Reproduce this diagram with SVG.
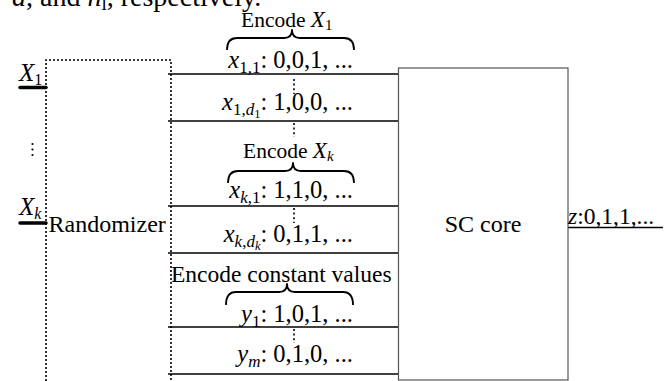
<svg xmlns="http://www.w3.org/2000/svg" width="671" height="381" viewBox="0 0 671 381">
  <style>
    text { font-family: "Liberation Serif", "Times New Roman", serif; fill: #000; }
    .it { font-style: italic; }
    .lbl { font-size: 24.5px; }
    .sub { font-size: 17px; }
    .sub2 { font-size: 12.5px; }
    .big { font-size: 24px; }
    .dot { fill: none; stroke: #000; stroke-width: 1.6; stroke-dasharray: 2 2; }
    .ell { fill: none; stroke: #000; stroke-width: 1.6; stroke-dasharray: 2 2.6; }
    .wire { stroke: #000; stroke-width: 1.6; }
    .brace { fill: none; stroke: #000; stroke-width: 1.8; stroke-linejoin: round; }
    .inp { stroke: #000; stroke-width: 3.5; stroke-linecap: round; }
  </style>

  <rect width="671" height="381" fill="#fff"/>

  <!-- running text of the page, cut at the top edge -->
  <text x="12" y="6" style="font-size:28px"><tspan class="it">a</tspan>, and <tspan class="it">n</tspan><tspan style="font-size:19px" dy="4">l</tspan><tspan dy="-4">, respectively.</tspan></text>

  <!-- inputs -->
  <g id="input-x1">
    <text x="19" y="81" style="font-size:25px"><tspan class="it">X</tspan><tspan style="font-size:16px" dy="4">1</tspan></text>
    <line class="inp" x1="20" y1="87.5" x2="46" y2="87.5"/>
  </g>
  <g id="input-dots">
    <circle cx="32.5" cy="144" r="1.1"/>
    <circle cx="32.5" cy="149.5" r="1.1"/>
    <circle cx="32.5" cy="155" r="1.1"/>
  </g>
  <g id="input-xk">
    <text x="19" y="215" style="font-size:25px"><tspan class="it">X</tspan><tspan class="it" style="font-size:16px" dy="4">k</tspan></text>
    <line class="inp" x1="20" y1="223" x2="46" y2="223"/>
  </g>

  <!-- randomizer block -->
  <g id="randomizer">
    <path class="dot" d="M46 381 V60 H171 V381"/>
    <text x="48.5" y="232" class="big">Randomizer</text>
  </g>

  <!-- stochastic bitstreams into the core -->
  <g id="connectors">
    <line class="wire" x1="168" y1="74" x2="398" y2="74"/>
    <line class="wire" x1="168" y1="121" x2="398" y2="121"/>
    <line class="wire" x1="168" y1="206" x2="398" y2="206"/>
    <line class="wire" x1="168" y1="253" x2="398" y2="253"/>
    <line class="wire" x1="168" y1="327" x2="398" y2="327"/>
    <line class="wire" x1="168" y1="374" x2="398" y2="374"/>
    <line class="wire" x1="568" y1="227.5" x2="663" y2="227.5"/>
    <!-- vertical ellipses between streams -->
    <line class="ell" x1="294" y1="79" x2="294" y2="94"/>
    <line class="ell" x1="294" y1="123" x2="294" y2="137"/>
    <line class="ell" x1="294" y1="208" x2="294" y2="223"/>
    <line class="ell" x1="294" y1="329" x2="294" y2="343"/>
  </g>

  <!-- group: encode X1 -->
  <g id="encode-x1">
    <text x="241" y="27" style="font-size:21.5px">Encode <tspan class="it" style="font-size:23px">X</tspan><tspan style="font-size:15px" dy="3">1</tspan></text>
    <path class="brace" d="M227 50 Q227 38 237 38 H284 Q292 38 292 30 Q292 38 300 38 H344 Q354 38 354 50"/>
    <text x="353" y="68" class="lbl" text-anchor="end"><tspan class="it">x</tspan><tspan class="sub" dy="5">1,1</tspan><tspan dy="-5">: 0,0,1, ...</tspan></text>
  </g>
  <g id="stream-x1d1">
    <text x="353" y="110" class="lbl" text-anchor="end"><tspan class="it">x</tspan><tspan class="sub" dy="5">1,</tspan><tspan class="it sub">d</tspan><tspan class="sub2" dy="3">1</tspan><tspan dy="-8">: 1,0,0, ...</tspan></text>
  </g>

  <!-- group: encode Xk -->
  <g id="encode-xk">
    <text x="243" y="158" style="font-size:21.5px">Encode <tspan class="it" style="font-size:23px">X</tspan><tspan class="it" style="font-size:15px" dy="3">k</tspan></text>
    <path class="brace" d="M228 183 Q228 171 238 171 H285 Q293 171 293 163 Q293 171 301 171 H344 Q354 171 354 183"/>
    <text x="353" y="198" class="lbl" text-anchor="end"><tspan class="it">x</tspan><tspan class="it sub" dy="5">k</tspan><tspan class="sub">,1</tspan><tspan dy="-5">: 1,1,0, ...</tspan></text>
  </g>
  <g id="stream-xkdk">
    <text x="353" y="242" class="lbl" text-anchor="end"><tspan class="it">x</tspan><tspan class="it sub" dy="5">k</tspan><tspan class="sub">,</tspan><tspan class="it sub">d</tspan><tspan class="it sub2" dy="3">k</tspan><tspan dy="-8">: 0,1,1, ...</tspan></text>
  </g>

  <!-- group: constants -->
  <g id="encode-const">
    <text x="171" y="282" style="font-size:23.5px">Encode constant values</text>
    <path class="brace" d="M226 305 Q226 292 236 292 H279 Q287 292 287 284 Q287 292 295 292 H343 Q353 292 353 305"/>
    <text x="353" y="322" class="lbl" text-anchor="end"><tspan class="it">y</tspan><tspan class="sub" dy="5">1</tspan><tspan dy="-5">: 1,0,1, ...</tspan></text>
  </g>
  <g id="stream-ym">
    <text x="353" y="362" class="lbl" text-anchor="end"><tspan class="it">y</tspan><tspan class="it sub" dy="5">m</tspan><tspan dy="-5">: 0,1,0, ...</tspan></text>
  </g>

  <!-- stochastic computing core -->
  <g id="sc-core">
    <rect x="398.5" y="68" width="169.5" height="312" fill="#fff" stroke="#555" stroke-width="1.2"/>
    <text x="483" y="232" class="big" text-anchor="middle">SC core</text>
  </g>

  <!-- output stream -->
  <g id="output-z">
    <text x="568" y="224" style="font-size:23.5px"><tspan class="it">z</tspan>:0,1,1,...</text>
  </g>
</svg>
